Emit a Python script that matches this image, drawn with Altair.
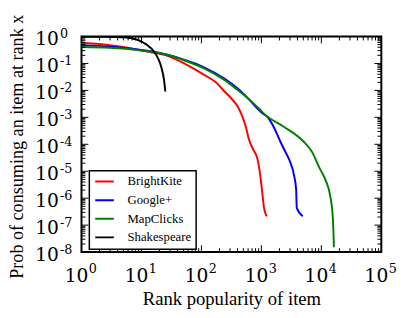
import altair as alt
import pandas as pd

# ---- data (rank x, probability y) ----
shakes_x = [1, 2, 3, 4, 5, 6, 7, 8, 9, 10, 11, 12, 13, 14, 15, 16, 17, 18, 19, 20, 21, 22, 23, 24, 25]
shakes_y = [0.977, 0.977, 0.966, 0.955, 0.933, 0.902, 0.851, 0.794, 0.724, 0.646, 0.575, 0.513,
            0.447, 0.389, 0.339, 0.282, 0.234, 0.191, 0.151, 0.115, 0.0851, 0.0589, 0.038, 0.0214, 0.0091]

bk_x = [1, 2, 4, 8, 16, 25, 54, 115, 178, 245, 316, 398, 479, 550, 617, 741, 851, 933, 1023, 1096, 1230]
bk_y = [0.575, 0.525, 0.437, 0.339, 0.251, 0.204, 0.0955, 0.0363, 0.0191, 0.00891, 0.00501, 0.00263,
        1.12e-3, 4.47e-4, 1.58e-4, 6.03e-5, 3.16e-5, 1.07e-5, 2.04e-6, 5.01e-7, 2.14e-7]

gp_x = [1, 3, 10, 20, 25, 54, 115, 245, 398, 631, 851, 1122, 1230, 1585, 2042, 2455, 2951, 3548, 3802, 3890, 4898]
gp_y = [0.479, 0.417, 0.316, 0.245, 0.219, 0.132, 0.0692, 0.0269, 0.0120, 0.00447, 0.00219, 0.00126,
        0.00110, 4.68e-4, 1.35e-4, 5.75e-5, 2.51e-5, 6.17e-6, 2.04e-6, 4.37e-7, 2.14e-7]

mc_x = [1, 3, 10, 20, 25, 54, 115, 245, 398, 513, 741, 955, 1122, 2291, 4898, 7079, 9120, 11750, 14125, 15488, 16218]
mc_y = [0.407, 0.380, 0.302, 0.245, 0.219, 0.126, 0.0631, 0.0240, 0.0105, 0.00676, 0.00331, 0.00191,
        0.00132, 4.68e-4, 1.35e-4, 5.01e-5, 1.45e-5, 4.68e-6, 1.15e-6, 2.14e-7, 1.51e-8]

series_names = ["BrightKite", "Google+", "MapClicks", "Shakespeare"]
series_colors = ["#ff0000", "#0000ff", "#008000", "#000000"]

# tick values and tick label parts (base "10" with a superscript exponent)
x_major = [1, 10, 100, 1e3, 1e4, 1e5]
x_exp = ["0", "1", "2", "3", "4", "5"]
y_major = [1e-8, 1e-7, 1e-6, 1e-5, 1e-4, 1e-3, 1e-2, 1e-1, 1]
y_exp = ["-8", "-7", "-6", "-5", "-4", "-3", "-2", "-1", "0"]
x_minor = [m * 10.0 ** k for k in range(0, 5) for m in range(2, 10)]
y_minor = [m * 10.0 ** k for k in range(-8, 0) for m in range(2, 10)]

rows = []
for name, xs, ys in [("BrightKite", bk_x, bk_y), ("Google+", gp_x, gp_y),
                     ("MapClicks", mc_x, mc_y), ("Shakespeare", shakes_x, shakes_y)]:
    for xv, yv in zip(xs, ys):
        rows.append({"x": xv, "y": yv, "series": name})
df = pd.DataFrame(rows)

W, H = 306, 220
TFONT = "Liberation Serif"
NFONT = "DejaVu Serif"

xscale = alt.Scale(type="log", domain=[1, 1e5], nice=False)
yscale = alt.Scale(type="log", domain=[1e-8, 1], nice=False)

lines = alt.Chart(df).mark_line(strokeWidth=2, clip=True, interpolate="monotone").encode(
    x=alt.X("x:Q", scale=xscale,
            axis=alt.Axis(title="Rank popularity of item", labels=False,
                          ticks=False, domain=False, grid=False,
                          titleFont=TFONT, titleFontSize=19, titleFontWeight="normal",
                          titleColor="black", titleY=53, titleBaseline="alphabetic")),
    y=alt.Y("y:Q", scale=yscale,
            axis=alt.Axis(title="Prob of consuming an item at rank x", labels=False,
                          ticks=False, domain=False, grid=False,
                          titleFont=TFONT, titleFontSize=18.5, titleFontWeight="normal",
                          titleColor="black", titleX=-60, titleY=112, titleAngle=-90,
                          titleAlign="center", titleBaseline="alphabetic")),
    color=alt.Color("series:N", scale=alt.Scale(domain=series_names, range=series_colors),
                    legend=alt.Legend(title=None, orient="none", legendX=8, legendY=137,
                                      symbolType="stroke", symbolSize=361, symbolStrokeWidth=2,
                                      labelFont=TFONT, labelFontSize=13, labelColor="black",
                                      labelOffset=13, clipHeight=12, rowPadding=6, padding=5,
                                      strokeColor="black", fillColor="white")),
    order=alt.Order("x:Q"),
)

def tick_layer(vals, channel, side, length):
    d = pd.DataFrame({channel: vals})
    base = alt.Chart(d).mark_rule(color="black", strokeWidth=1)
    if channel == "x":
        if side == "bottom":
            return base.encode(x=alt.X("x:Q", scale=xscale), y=alt.value(H), y2=alt.value(H - length))
        return base.encode(x=alt.X("x:Q", scale=xscale), y=alt.value(0), y2=alt.value(length))
    if side == "left":
        return base.encode(y=alt.Y("y:Q", scale=yscale), x=alt.value(0), x2=alt.value(length))
    return base.encode(y=alt.Y("y:Q", scale=yscale), x=alt.value(W), x2=alt.value(W - length))

ticks = [
    tick_layer(x_major, "x", "bottom", 7), tick_layer(x_major, "x", "top", 7),
    tick_layer(x_minor, "x", "bottom", 4), tick_layer(x_minor, "x", "top", 4),
    tick_layer(y_major, "y", "left", 7), tick_layer(y_major, "y", "right", 7),
    tick_layer(y_minor, "y", "left", 4), tick_layer(y_minor, "y", "right", 4),
]

xlab = pd.DataFrame({"x": x_major, "base": ["10"] * len(x_major), "exp": x_exp})
ylab = pd.DataFrame({"y": y_major, "base": ["10"] * len(y_major), "exp": y_exp})

x_base = alt.Chart(xlab).mark_text(font=NFONT, fontSize=19, align="center", baseline="alphabetic",
                                   dx=-5, color="black").encode(
    x=alt.X("x:Q", scale=xscale), y=alt.value(H + 31), text="base:N")
x_sup = alt.Chart(xlab).mark_text(font=NFONT, fontSize=13, align="left", baseline="alphabetic",
                                  dx=7.5, color="black").encode(
    x=alt.X("x:Q", scale=xscale), y=alt.value(H + 21.5), text="exp:N")
y_base = alt.Chart(ylab).mark_text(font=NFONT, fontSize=19, align="right", baseline="alphabetic",
                                   dy=9, color="black").encode(
    y=alt.Y("y:Q", scale=yscale), x=alt.value(-23), text="base:N")
y_sup = alt.Chart(ylab).mark_text(font=NFONT, fontSize=13, align="left", baseline="alphabetic",
                                  dy=1.5, color="black").encode(
    y=alt.Y("y:Q", scale=yscale), x=alt.value(-22), text="exp:N")

chart = alt.layer(lines, *ticks, x_base, x_sup, y_base, y_sup).properties(
    width=W, height=H,
    padding={"left": 75, "top": 26, "right": 16, "bottom": 56},
    autosize=alt.AutoSizeParams(type="none"),
).configure_view(stroke="black", strokeWidth=2).configure_legend(strokeWidth=1.5)

chart.save("out.html", embed_options={"renderer": "svg", "actions": False})
